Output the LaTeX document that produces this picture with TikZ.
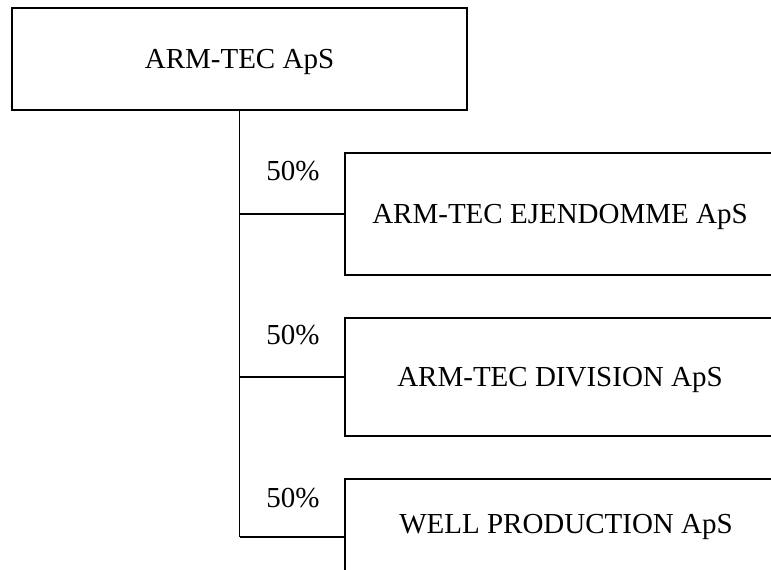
\documentclass[tikz,border=0pt]{standalone}
\usepackage{fontspec}
\setmainfont{Liberation Serif}
\begin{document}
\begin{tikzpicture}[x=1pt,y=-1pt,
  box/.style={draw=black,line width=2.2pt,rectangle,inner sep=0pt,text height=19.2pt,text depth=0pt,font=\fontsize{29}{34}\selectfont},
  conn/.style={draw=black,line width=1.7pt},
  pct/.style={font=\fontsize{29}{34}\selectfont,inner sep=0pt,anchor=base},
  lbl/.style={font=\fontsize{29}{34}\selectfont,inner sep=0pt,anchor=base}]
\useasboundingbox (0,0) rectangle (771,570);
\clip (0,0) rectangle (771,570);
\node[box,minimum width=455pt,minimum height=102pt] (top) at (239.5,59) {ARM-TEC ApS};
\node[box,minimum width=430pt,minimum height=122pt] (b1) at (560,214) {ARM-TEC EJENDOMME ApS};
\node[box,minimum width=430pt,minimum height=118pt] (b2) at (560,377) {ARM-TEC DIVISION ApS};
\node[box,minimum width=430pt,minimum height=116pt] (b3) at (560,537) {};
\node[lbl] (t3) at (566,533) {WELL PRODUCTION ApS};
\coordinate (j3) at (top.south |- b3.west);
\draw[conn] (top.south) -- (j3);
\draw[conn] (top.south |- b1.west) -- (b1.west);
\draw[conn] (top.south |- b2.west) -- (b2.west);
\draw[conn] (j3) -- (b3.west);
\node[pct] (p1) at (293,180) {50\%};
\node[pct] (p2) at (293,344) {50\%};
\node[pct] (p3) at (293,507) {50\%};
\end{tikzpicture}
\end{document}
